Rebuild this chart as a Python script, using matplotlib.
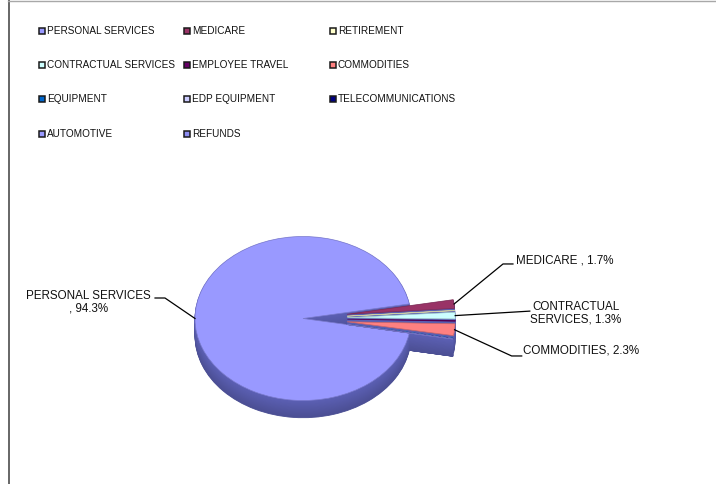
import matplotlib
matplotlib.use("Agg")
import matplotlib.pyplot as plt
import matplotlib.colors as mcolors
from matplotlib.patches import Rectangle
from matplotlib.lines import Line2D
import numpy as np

# ---- data -------------------------------------------------------------
categories = ["PERSONAL SERVICES", "MEDICARE", "RETIREMENT",
              "CONTRACTUAL SERVICES", "EMPLOYEE TRAVEL", "COMMODITIES",
              "EQUIPMENT", "EDP EQUIPMENT", "TELECOMMUNICATIONS",
              "AUTOMOTIVE", "REFUNDS"]
shares = [94.3, 1.7, 0.1, 1.3, 0.15, 2.3, 0.05, 0.03, 0.05, 0.01, 0.01]
colors = ["#9999FF", "#993366", "#FFFFCC", "#CCFFFF", "#660066", "#FF8080",
          "#0066CC", "#CCCCFF", "#000080", "#9999FF", "#8C8CF0"]
explode = [0.0] + [0.41] * (len(shares) - 1)

label_formats = {
    "PERSONAL SERVICES": "PERSONAL SERVICES\n, {:.1f}%",
    "MEDICARE": "MEDICARE , {:.1f}%",
    "CONTRACTUAL SERVICES": "CONTRACTUAL\nSERVICES, {:.1f}%",
    "COMMODITIES": "COMMODITIES, {:.1f}%",
}

# ---- figure -----------------------------------------------------------
W, H, DPI = 716, 484, 100
FONT = "Liberation Sans"
FS_LEGEND = 7.2
FS_LABEL = 8.4
fig = plt.figure(figsize=(W / DPI, H / DPI), dpi=DPI)
fig.patch.set_facecolor("white")


def fx(px):
    return px / W


def fy(py):
    return 1 - py / H


# chart frame (left and top edges)
fig.add_artist(Line2D([fx(8.5), fx(8.5)], [0, 1], color="#5a5a5a", lw=1.3,
                      transform=fig.transFigure))
fig.add_artist(Line2D([fx(8), 1], [fy(0.6), fy(0.6)], color="#a8a8a8", lw=1.0,
                      transform=fig.transFigure))

# ---- legend (row-wise, 3 columns) ------------------------------------
col_x = [39, 184, 330]
row_y = [31, 65, 99, 134]
for i, (name, c) in enumerate(zip(categories, colors)):
    r, k = divmod(i, 3)
    x0, yc = col_x[k], row_y[r]
    fig.add_artist(Rectangle((fx(x0), fy(yc + 3.2)), fx(6.4), 6.4 / H,
                             facecolor=c, edgecolor="#1a1a1a", lw=1.1,
                             transform=fig.transFigure))
    fig.text(fx(x0 + 8), fy(yc), name, fontsize=FS_LEGEND, family=FONT,
             va="center", ha="left", color="#111111")

# ---- pseudo-3D pie ---------------------------------------------------
ax = fig.add_axes([fx(303 - 162), 1 - (318.5 + 123) / H, 324 / W, 246 / H])
depth = 0.21
n_layers = 22
start = -(360 * (sum(shares) - shares[0]) / sum(shares)) / 2

side_base = np.array(mcolors.to_rgb("#5c60b4"))
for j in range(n_layers, 0, -1):
    d = depth * j / n_layers
    shade = tuple(side_base * (1 - 0.18 * j / n_layers))
    ax.pie(shares, explode=explode, colors=[shade] * len(shares),
           startangle=start, counterclock=False, radius=1.0,
           center=(0, -d), wedgeprops=dict(linewidth=0.6, edgecolor=shade))

edge_cols = [tuple(np.array(mcolors.to_rgb(c)) * 0.8) for c in colors]
wedges, _ = ax.pie(shares, explode=explode, colors=colors,
                   startangle=start, counterclock=False, radius=1.0,
                   center=(0, 0), wedgeprops=dict(linewidth=0.5))
for w, ec in zip(wedges, edge_cols):
    w.set_edgecolor(ec)

ax.set_aspect("auto")
ax.set_xlim(-1.5, 1.5)
ax.set_ylim(-1.5, 1.5)
ax.axis("off")

# ---- data labels with leader lines -----------------------------------
label_layout = {
    "PERSONAL SERVICES": dict(path=[(-1.278, 0.25), (-1.37, 0.25)],
                              xy=(-1.986, 0.195), ha="center"),
    "MEDICARE": dict(path=[(1.852, 0.665), (1.944, 0.665)],
                     xy=(1.975, 0.71), ha="left"),
    "CONTRACTUAL SERVICES": dict(path=[(2.1, 0.09)],
                                 xy=(2.528, 0.061), ha="center"),
    "COMMODITIES": dict(path=[(1.932, -0.457), (2.025, -0.457)],
                        xy=(2.04, -0.393), ha="left"),
}
total = sum(shares)
for w, name, v in zip(wedges, categories, shares):
    if name not in label_formats:
        continue
    mid = np.deg2rad((w.theta1 + w.theta2) / 2)
    cx, cy = w.center
    anchor = (cx + w.r * np.cos(mid), cy + w.r * np.sin(mid))
    lay = label_layout[name]
    pts = [anchor] + lay["path"]
    ax.plot([p[0] for p in pts], [p[1] for p in pts], color="black",
            lw=0.9, clip_on=False)
    ax.text(lay["xy"][0], lay["xy"][1],
            label_formats[name].format(v / total * 100),
            fontsize=FS_LABEL, family=FONT, ha=lay["ha"], va="center",
            multialignment="center", linespacing=1.05, color="#111111",
            clip_on=False)

fig.savefig("out.png", dpi=DPI, facecolor="white")
